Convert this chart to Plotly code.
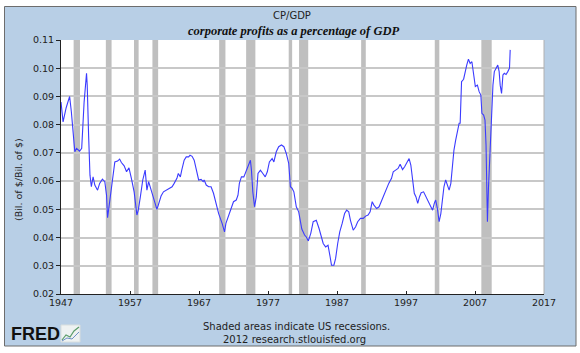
import plotly.graph_objects as go

# ---- data ----
years = [1947.0, 1947.3, 1947.75, 1948.25, 1948.5, 1949.0, 1949.25, 1949.7, 1950.0, 1950.35,
         1950.7, 1950.8, 1951.0, 1951.2, 1951.4, 1951.65, 1951.9, 1952.3, 1952.6, 1953.0,
         1953.35, 1953.6, 1953.75, 1954.1, 1954.4, 1954.8, 1955.2, 1955.5, 1955.75, 1956.15,
         1956.5, 1956.85, 1957.2, 1957.6, 1958.0, 1958.2, 1958.5, 1958.85, 1959.2, 1959.45,
         1959.7, 1959.9, 1960.2, 1960.5, 1960.9, 1961.1, 1961.5, 1961.85, 1962.35, 1962.7,
         1963.1, 1963.4, 1963.8, 1964.0, 1964.3, 1964.5, 1964.85, 1965.15, 1965.5, 1965.7,
         1966.0, 1966.3, 1966.6, 1966.95, 1967.3, 1967.6, 1967.75, 1968.05, 1968.4, 1968.75,
         1969.1, 1969.5, 1969.85, 1970.35, 1970.7, 1970.9, 1971.3, 1971.7, 1972.0, 1972.4,
         1972.65, 1972.85, 1973.15, 1973.5, 1973.8, 1974.1, 1974.45, 1974.6, 1974.8, 1975.05,
         1975.3, 1975.55, 1975.9, 1976.25, 1976.6, 1976.9, 1977.2, 1977.6, 1977.85, 1978.2,
         1978.55, 1978.95, 1979.3, 1979.65, 1980.0, 1980.25, 1980.5, 1980.75, 1981.1, 1981.45,
         1981.9, 1982.3, 1982.55, 1982.85, 1983.2, 1983.55, 1984.0, 1984.4, 1984.7, 1985.0,
         1985.35, 1985.7, 1986.0, 1986.2, 1986.55, 1986.8, 1987.1, 1987.4, 1987.75, 1988.1,
         1988.4, 1988.7, 1988.95, 1989.35, 1989.7, 1990.0, 1990.4, 1990.8, 1991.15, 1991.5,
         1991.8, 1992.1, 1992.35, 1992.75, 1993.1, 1993.4, 1993.8, 1994.2, 1994.5, 1994.9,
         1995.15, 1995.5, 1995.85, 1996.15, 1996.5, 1996.8, 1997.1, 1997.45, 1997.7, 1998.0,
         1998.2, 1998.45, 1998.7, 1998.95, 1999.2, 1999.55, 1999.9, 2000.2, 2000.5, 2000.85,
         2001.1, 2001.3, 2001.55, 2001.8, 2002.05, 2002.3, 2002.5, 2002.75, 2003.0, 2003.25,
         2003.5, 2003.7, 2003.95, 2004.2, 2004.45, 2004.7, 2004.85, 2005.05, 2005.35, 2005.55,
         2005.8, 2006.05, 2006.3, 2006.55, 2006.8, 2007.05, 2007.35, 2007.6, 2007.85, 2008.0,
         2008.25, 2008.45, 2008.6, 2008.75, 2008.8, 2008.95, 2009.1, 2009.3, 2009.45, 2009.6,
         2009.8, 2010.05, 2010.3, 2010.5, 2010.65, 2010.85, 2011.05, 2011.25, 2011.5, 2011.75,
         2012.0, 2012.1]
cp_gdp = [0.088, 0.081, 0.086, 0.090, 0.0846, 0.0704, 0.0716, 0.0706, 0.0716, 0.088,
          0.0982, 0.094, 0.0763, 0.0621, 0.058, 0.0615, 0.0586, 0.0568, 0.0592, 0.0607,
          0.0598, 0.055, 0.047, 0.054, 0.0586, 0.0668, 0.0671, 0.0678, 0.0666, 0.0654,
          0.0633, 0.0647, 0.061, 0.0562, 0.048, 0.0497, 0.0544, 0.0604, 0.0639, 0.0568,
          0.0598, 0.058, 0.0562, 0.0527, 0.050, 0.0515, 0.0547, 0.0562, 0.0568, 0.0574,
          0.058, 0.0592, 0.061, 0.0627, 0.0615, 0.0639, 0.0674, 0.0686, 0.0686, 0.0692,
          0.0688, 0.0674, 0.0639, 0.0604, 0.0606, 0.0598, 0.0604, 0.0586, 0.058, 0.058,
          0.0557, 0.0515, 0.0485, 0.045, 0.042, 0.045, 0.048, 0.0509, 0.0527, 0.0533,
          0.055, 0.0592, 0.0615, 0.0615, 0.0633, 0.0651, 0.0674, 0.0639, 0.0562, 0.0509,
          0.0544, 0.0627, 0.0639, 0.0627, 0.0615, 0.0633, 0.0668, 0.068, 0.0668, 0.0704,
          0.0722, 0.0728, 0.0722, 0.0698, 0.0663, 0.058, 0.0574, 0.0562, 0.0509, 0.0491,
          0.043, 0.0409, 0.0402, 0.0388, 0.0415, 0.0456, 0.0461, 0.0432, 0.0409, 0.0379,
          0.0367, 0.0373, 0.0332, 0.0302, 0.0302, 0.0326, 0.0379, 0.042, 0.045, 0.0485,
          0.0497, 0.0491, 0.0461, 0.0426, 0.0438, 0.0456, 0.0468, 0.0468, 0.0476, 0.048,
          0.0491, 0.0527, 0.0515, 0.0503, 0.0509, 0.0527, 0.0557, 0.0574, 0.0592, 0.061,
          0.0633, 0.0639, 0.0645, 0.066, 0.0641, 0.0651, 0.0665, 0.068, 0.0657, 0.0592,
          0.0557, 0.0544, 0.0521, 0.0544, 0.0559, 0.0562, 0.0544, 0.0533, 0.0515, 0.0497,
          0.0521, 0.0533, 0.0503, 0.0456, 0.0485, 0.0533, 0.058, 0.0604, 0.0586, 0.0568,
          0.0592, 0.0651, 0.071, 0.0745, 0.0781, 0.0805, 0.0805, 0.0952, 0.0961, 0.0988,
          0.1011, 0.1032, 0.1017, 0.1023, 0.0982, 0.0935, 0.094, 0.0917, 0.0905, 0.084,
          0.0834, 0.0816, 0.0728, 0.055, 0.0456, 0.0574, 0.0657, 0.0739, 0.0822, 0.094,
          0.0988, 0.100, 0.1011, 0.0988, 0.094, 0.0911, 0.0976, 0.0982, 0.0978, 0.0988,
          0.100, 0.1065]

recession_start = [1948.83, 1953.5, 1957.58, 1960.25, 1969.92, 1973.83, 1980.0, 1981.5, 1990.5, 2001.17, 2007.92]
recession_end   = [1949.75, 1954.33, 1958.25, 1961.08, 1970.83, 1975.17, 1980.5, 1982.83, 1991.17, 2001.83, 2009.42]

x_ticks = [1947, 1957, 1967, 1977, 1987, 1997, 2007, 2017]
y_ticks = [0.02, 0.03, 0.04, 0.05, 0.06, 0.07, 0.08, 0.09, 0.10, 0.11]

# ---- layout geometry ----
W, H = 580, 353
L, R, T, B = 61, 36, 40, 59
PW, PH = W - L - R, H - T - B


def px(xp):
    return (xp - L) / PW


def py(yp):
    return (H - B - yp) / PH


FONT = "DejaVu Sans"
BLUE_BG = "#b8cfe6"

fig = go.Figure()
fig.add_trace(go.Scatter(x=years, y=cp_gdp, mode="lines",
                         line=dict(color="#3b3bff", width=1.1), showlegend=False,
                         hoverinfo="skip"))

shapes = [
    dict(type="rect", xref="paper", yref="paper", layer="below",
         x0=px(4.5), x1=px(576), y0=py(346), y1=py(6.5),
         fillcolor=BLUE_BG, line=dict(color="#6d6d6d", width=1)),
    dict(type="rect", xref="paper", yref="paper", layer="below",
         x0=0, x1=1, y0=0, y1=1, fillcolor="white", line=dict(width=0)),
]
for s, e in zip(recession_start, recession_end):
    shapes.append(dict(type="rect", xref="x", yref="paper", layer="below",
                       x0=s, x1=e, y0=0, y1=1, fillcolor="#bfbfbf",
                       line=dict(width=0)))
shapes.append(dict(type="line", xref="paper", yref="paper", x0=1, x1=1, y0=0, y1=1,
                   line=dict(color="#b0b0b0", width=1)))
shapes.append(dict(type="rect", xref="paper", yref="paper",
                   x0=px(61), x1=px(80), y0=py(342), y1=py(325),
                   fillcolor="#eef2f2", line=dict(color="#d8dede", width=1)))
shapes.append(dict(type="path", xref="paper", yref="paper",
                   path="M %f %f L %f %f L %f %f L %f %f L %f %f" % (
                       px(62), py(340), px(66), py(335), px(70), py(337),
                       px(74), py(331), px(79), py(327)),
                   line=dict(color="#5a9c6a", width=1.2)))
shapes.append(dict(type="path", xref="paper", yref="paper",
                   path="M %f %f L %f %f L %f %f L %f %f" % (
                       px(62), py(341), px(67), py(338), px(72), py(339),
                       px(79), py(332)),
                   line=dict(color="#6c8fc4", width=1)))

annotations = [
    dict(text="CP/GDP", x=px(292), y=py(16), xref="paper", yref="paper",
         showarrow=False, font=dict(family=FONT, size=10, color="#222"),
         xanchor="center", yanchor="middle"),
    dict(text="<b><i>corporate profits as a percentage of GDP</i></b>", x=px(293), y=py(30.5),
         xref="paper", yref="paper", showarrow=False,
         font=dict(family="Liberation Serif", size=12.5, color="#111"),
         xanchor="center", yanchor="middle"),
    dict(text="(Bil. of $/Bil. of $)", x=px(18), y=py(180), xref="paper", yref="paper",
         showarrow=False, textangle=-90,
         font=dict(family=FONT, size=9.5, color="#222"),
         xanchor="center", yanchor="middle"),
    dict(text="Shaded areas indicate US recessions.", x=px(296), y=py(326.5),
         xref="paper", yref="paper", showarrow=False,
         font=dict(family=FONT, size=10, color="#222"),
         xanchor="center", yanchor="middle"),
    dict(text="2012 research.stlouisfed.org", x=px(294), y=py(339.5),
         xref="paper", yref="paper", showarrow=False,
         font=dict(family=FONT, size=10, color="#222"),
         xanchor="center", yanchor="middle"),
    dict(text="<b>FRED</b>", x=px(9), y=py(333.5), xref="paper", yref="paper",
         showarrow=False, font=dict(family="Liberation Sans", size=18, color="#111"),
         xanchor="left", yanchor="middle"),
]

fig.update_layout(
    width=W, height=H,
    margin=dict(l=L, r=R, t=T, b=B, pad=0),
    paper_bgcolor="white",
    plot_bgcolor="rgba(0,0,0,0)",
    shapes=shapes,
    annotations=annotations,
    xaxis=dict(range=[1947, 2017], tickmode="array", tickvals=x_ticks,
               ticktext=[str(v) for v in x_ticks], showgrid=False, zeroline=False,
               showline=True, linecolor="#222", linewidth=1,
               ticks="inside", ticklen=3, tickcolor="#222",
               tickfont=dict(family=FONT, size=9.5, color="#222")),
    yaxis=dict(range=[0.02, 0.11], tickmode="array", tickvals=y_ticks,
               ticktext=["%.2f" % v for v in y_ticks], showgrid=True,
               gridcolor="#c8c8c8", gridwidth=1.5, zeroline=False,
               showline=True, linecolor="#222", linewidth=1,
               ticks="outside", ticklen=4, tickcolor="#222",
               tickfont=dict(family=FONT, size=9.5, color="#222")),
)

fig.write_html("out.html")
